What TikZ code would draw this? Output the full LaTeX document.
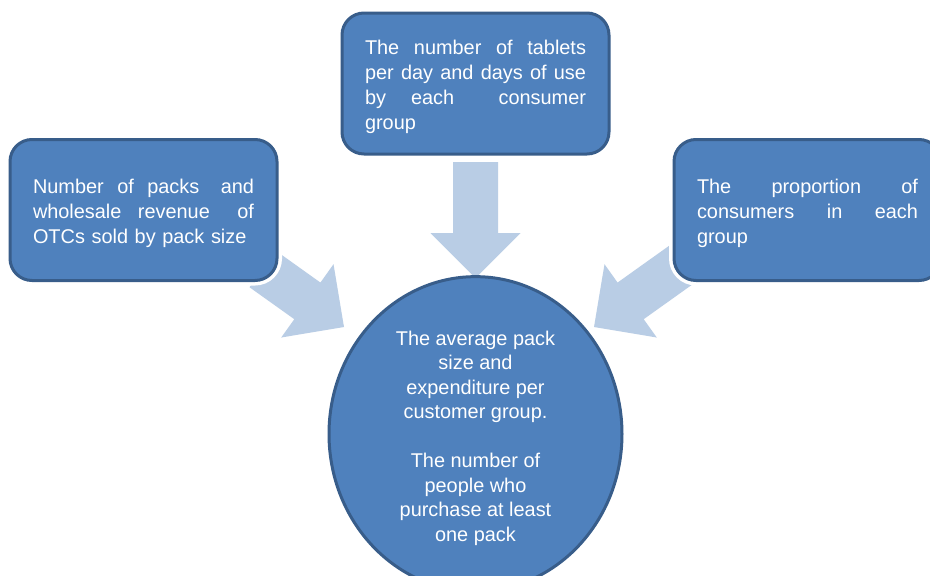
\documentclass[tikz,border=0pt]{standalone}
\usepackage{fontspec}
\setmainfont{Liberation Sans}
\usetikzlibrary{shapes.geometric}
\definecolor{boxfill}{HTML}{4F81BD}
\definecolor{boxline}{HTML}{385D8A}
\definecolor{arrowfill}{HTML}{B9CDE5}
\newcommand\blockarrow[4]{%
  \fill[arrowfill,shift={(#1,#2)},rotate=#3]
    (0,0) -- (-45,45) -- (-45,22.5) -- (-#4,22.5) -- (-#4,-22.5) -- (-45,-22.5) -- (-45,-45) -- cycle;}
\newcommand\jline[1]{\leavevmode\hbox to 221pt{\spaceskip=0.278em plus 1fil\relax #1}}
\newcommand\dsp{\hspace{0pt plus 1fil}}
\newcommand\toprule[1]{\rule{0pt}{#1}}
\tikzset{
  infobox/.style={draw=boxline, line width=3pt, fill=boxfill, rounded corners=22pt,
    minimum width=267pt, minimum height=141pt, text width=221pt, align=left,
    text=white, font=\fontsize{19.9}{25}\selectfont, inner sep=0pt,
    preaction={draw=white, line width=10pt}},
  resultshape/.style={ellipse, draw=boxline, line width=3pt, fill=boxfill,
    minimum width=293pt, minimum height=289pt, inner sep=0pt, align=center,
    text=white, font=\fontsize{19.9}{24.5}\selectfont}
}
\begin{document}
\begin{tikzpicture}[x=1pt,y=-1pt]
\clip (0,0) rectangle (930,576);
\fill[white] (0,0) rectangle (930,576);
% block arrows
\blockarrow{344}{327}{-35.5}{100}
\blockarrow{594}{327}{-144.5}{115}
\blockarrow{475.5}{278}{-90}{116}
% boxes
\node[infobox] (left) at (143.5,210) {\toprule{20.4pt}\jline{Number of packs \dsp and}\\\jline{wholesale revenue \dsp of}\\OTCs sold by pack size};
\node[infobox] (top) at (475.5,83.5) {\toprule{20.4pt}\jline{The number of tablets}\\\jline{per day and days of use}\\\jline{by each \dsp consumer}\\group};
\node[infobox] (right) at (807.5,210) {\toprule{20.4pt}\jline{The proportion of}\\\jline{consumers in each}\\group};
\node[resultshape] (result) at (475.5,434) {\toprule{22.4pt}The average pack\\size and\\expenditure per\\customer group.\\[24.5pt]The number of\\people who\\purchase at least\\one pack};
\end{tikzpicture}
\end{document}
